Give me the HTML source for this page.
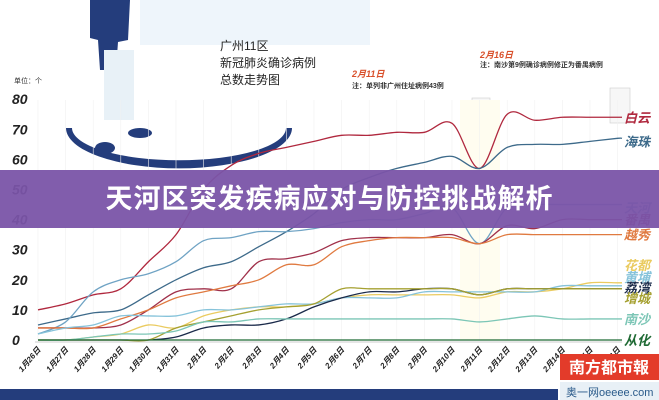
<!DOCTYPE html>
<html><head><meta charset="utf-8"><style>
html,body{margin:0;padding:0;background:#fff;}
#w{position:relative;width:659px;height:400px;overflow:hidden;background:#fff;font-family:"Liberation Sans","Noto Sans CJK SC",sans-serif;}
svg{position:absolute;left:0;top:0;}
#banner{position:absolute;left:0;top:170px;width:659px;height:58px;background:rgba(122,84,168,0.95);color:#fff;font-weight:bold;font-size:27px;text-align:center;line-height:58px;font-family:"Liberation Sans","Noto Sans CJK SC",sans-serif;letter-spacing:1px;}
</style></head><body><div id="w">
<svg id="s" width="659" height="400" viewBox="0 0 659 400">
<rect x="140" y="0" width="230" height="45" fill="#eef5fb"/>
<path d="M66,128 A112,40 0 0 0 292,128 L286,128 A106,32 0 0 1 72,128 Z" fill="#243d7c"/>
<path d="M90,0 L130,0 L128,40 L118,42 L116,70 L100,70 L98,40 L90,38 Z" fill="#243d7c"/>
<rect x="104" y="50" width="30" height="70" fill="#e8f1f7"/>
<ellipse cx="105" cy="148" rx="10" ry="6" fill="#243d7c"/>
<ellipse cx="140" cy="133" rx="12" ry="5" fill="#243d7c"/>
<g font-size="12" fill="#222">
<text x="220" y="50">广州11区</text><text x="220" y="67">新冠肺炎确诊病例</text><text x="220" y="84">总数走势图</text></g>
<text x="14" y="83" font-size="7" fill="#333">单位：个</text>
<text x="352" y="77" font-size="9" fill="#d9502b" font-style="italic" font-weight="bold">2月11日</text>
<text x="352" y="88" font-size="7" fill="#333" font-weight="bold">注：单列非广州住址病例43例</text>
<text x="480" y="58" font-size="9" fill="#d9502b" font-style="italic" font-weight="bold">2月16日</text>
<text x="480" y="67" font-size="7" fill="#333" font-weight="bold">注：南沙第9例确诊病例修正为番禺病例</text>
<rect x="472" y="98" width="18" height="42" fill="#f7f7f7" stroke="#ccc" stroke-width="0.6"/>
<rect x="610" y="88" width="20" height="35" fill="#f7f7f7" stroke="#ccc" stroke-width="0.6"/>
<rect x="460" y="100" width="40" height="240" fill="#fffdf0"/>
<g id="grid"></g><g id="lines"></g><g id="lab"></g>
<rect x="0" y="389" width="558" height="11" fill="#243d7c"/>
<rect x="560" y="354" width="99" height="26" fill="#e33b2a"/>
<text x="609" y="373" font-size="16" font-weight="bold" fill="#fff" text-anchor="middle">南方都市報</text>
<rect x="560" y="382" width="99" height="18" fill="#e8f0f6"/>
<text x="566" y="396" font-size="11" fill="#2a5a8a">奥一网oeeee.com</text>
</svg>
<div id="banner">天河区突发疾病应对与防控挑战解析</div>
</div>
<script>
var X=i=>38+27.6*i, Y=v=>340-3.01*v;
var S=[
["白云","#b0283e",[10,12,15,17,26,35,50,58,62,64,66,68,68,69,69,72,57,75,73,74,74,74],74],
["海珠","#3d6a8a",[5,7,9,10,15,20,24,26,31,36,42,50,54,57,59,61,57,64,65,65,66,67],66],
["天河","#6fa3c4",[2,6,16,20,22,26,33,34,36,36,37,39,40,40,42,44,32,44,45,45,45,45],44],
["番禺","#a0304a",[4,4,4,5,10,16,17,17,26,27,29,33,34,34,34,35,32,38,37,40,40,40],40],
["越秀","#e07a40",[4,4,4,7,10,14,16,18,20,25,25,31,33,34,34,34,32,35,35,35,35,35],35],
["花都","#eacb60",[0,0,1,2,5,4,8,10,11,11,12,14,15,15,15,15,14,16,16,17,19,19],25],
["黄埔","#86c3da",[2,4,5,8,8,8,10,10,11,12,12,14,14,14,16,16,16,16,16,18,18,18],21],
["荔湾","#1a2a4a",[0,0,0,0,0,1,4,5,5,7,11,14,16,16,17,17,15,17,17,17,17,17],17.5],
["增城","#a5a030",[0,0,0,0,0,4,6,8,10,11,12,17,17,17,17,17,15,17,17,17,17,17],14],
["南沙","#7cc6b6",[0,0,1,2,2,3,6,6,7,7,7,7,7,7,7,7,6,7,8,7,7,7],7],
["从化","#1f6a34",[0,0,0,0,0,0,0,0,0,0,0,0,0,0,0,0,0,0,0,0,0,0],0]];
var ns="http://www.w3.org/2000/svg";
function el(t,a,p,txt){var e=document.createElementNS(ns,t);for(var k in a)e.setAttribute(k,a[k]);if(txt)e.textContent=txt;document.getElementById(p).appendChild(e);return e;}
for(var v=0;v<=80;v+=10){el("text",{x:12,y:Y(v)+5,"font-size":14,"font-weight":"bold","font-style":"italic",fill:"#222"},"grid",""+v);}
var d=["1月26日","1月27日","1月28日","1月29日","1月30日","1月31日","2月1日","2月2日","2月3日","2月4日","2月5日","2月6日","2月7日","2月8日","2月9日","2月10日","2月11日","2月12日","2月13日","2月14日","2月15日","2月16日"];
for(var i=0;i<22;i++){el("line",{x1:X(i),y1:100,x2:X(i),y2:340,stroke:"#f1f1f1","stroke-width":0.6},"grid");
el("text",{x:X(i)+3,y:350,"font-size":8,"font-weight":"bold","font-style":"italic",fill:"#222","text-anchor":"end",transform:"rotate(-50 "+(X(i)+3)+" 350)"},"grid",d[i]);}
el("line",{x1:35,y1:342,x2:622,y2:342,stroke:"#bbb","stroke-width":0.8},"grid");
S.forEach(function(s){var p=s[2].map((v,i)=>[X(i),Y(v)]);p.push([622,Y(s[2][21])]);
var str="M"+p[0][0]+","+p[0][1];
for(var i=0;i<p.length-1;i++){var p0=p[i-1]||p[i],p1=p[i],p2=p[i+1],p3=p[i+2]||p2;
str+=" C"+(p1[0]+(p2[0]-p0[0])/6)+","+(p1[1]+(p2[1]-p0[1])/6)+" "+(p2[0]-(p3[0]-p1[0])/6)+","+(p2[1]-(p3[1]-p1[1])/6)+" "+p2[0]+","+p2[1];}
el("path",{d:str,fill:"none",stroke:s[1],"stroke-width":1.3},"lines");
el("text",{x:624,y:Y(s[3])+5,"font-size":13,"font-weight":"bold","font-style":"italic",fill:s[1]},"lab",s[0]);});
</script>
</body></html>
